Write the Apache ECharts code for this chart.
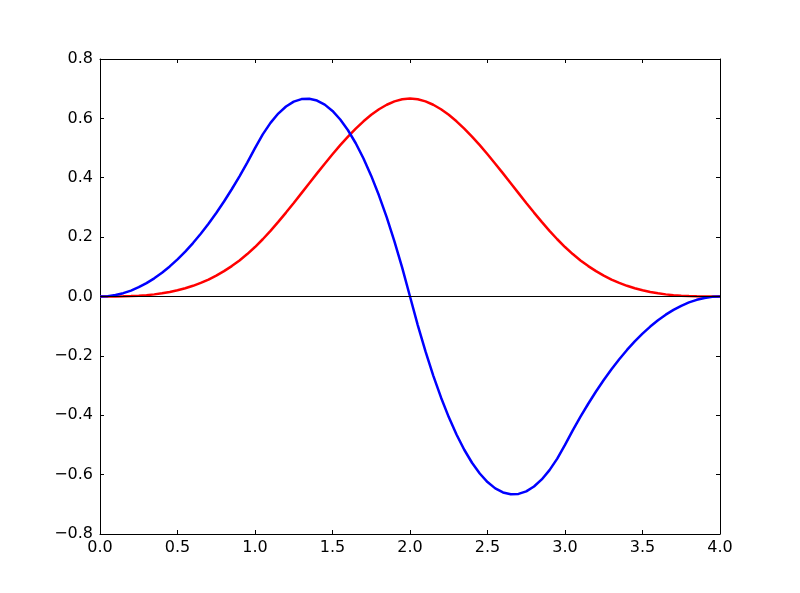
<!DOCTYPE html>
<html>
<head>
<meta charset="utf-8">
<script src="https://cdn.jsdelivr.net/npm/echarts@6/dist/echarts.min.js"></script>
<style>
  html, body { margin: 0; padding: 0; background: #fff; }
  #main { width: 800px; height: 593px; }
</style>
</head>
<body>
<div id="main"></div>
<script>
// sample positions along x
var xs = [0.00, 0.05, 0.10, 0.15, 0.20, 0.25, 0.30, 0.35, 0.40, 0.45,
          0.50, 0.55, 0.60, 0.65, 0.70, 0.75, 0.80, 0.85, 0.90, 0.95,
          1.00, 1.05, 1.10, 1.15, 1.20, 1.25, 1.30, 1.35, 1.40, 1.45,
          1.50, 1.55, 1.60, 1.65, 1.70, 1.75, 1.80, 1.85, 1.90, 1.95,
          2.00, 2.05, 2.10, 2.15, 2.20, 2.25, 2.30, 2.35, 2.40, 2.45,
          2.50, 2.55, 2.60, 2.65, 2.70, 2.75, 2.80, 2.85, 2.90, 2.95,
          3.00, 3.05, 3.10, 3.15, 3.20, 3.25, 3.30, 3.35, 3.40, 3.45,
          3.50, 3.55, 3.60, 3.65, 3.70, 3.75, 3.80, 3.85, 3.90, 3.95, 4.00];

// red curve (bell shape)
var redVals = [0, 0.00002, 0.00017, 0.00056, 0.00133, 0.0026, 0.0045, 0.00715, 0.01067, 0.0152,
               0.02083, 0.02773, 0.036, 0.04577, 0.05717, 0.07031, 0.08533, 0.10235, 0.1215, 0.1429,
               0.16667, 0.19285, 0.22117, 0.25123, 0.28267, 0.3151, 0.34817, 0.38148, 0.41467, 0.44735,
               0.47917, 0.50973, 0.53867, 0.5656, 0.59017, 0.61198, 0.63067, 0.64585, 0.65717, 0.66423,
               0.66667, 0.66423, 0.65717, 0.64585, 0.63067, 0.61198, 0.59017, 0.5656, 0.53867, 0.50973,
               0.47917, 0.44735, 0.41467, 0.38148, 0.34817, 0.3151, 0.28267, 0.25123, 0.22117, 0.19285,
               0.16667, 0.1429, 0.1215, 0.10235, 0.08533, 0.07031, 0.05717, 0.04577, 0.036, 0.02773,
               0.02083, 0.0152, 0.01067, 0.00715, 0.0045, 0.0026, 0.00133, 0.00056, 0.00017, 0.00002, 0];

// blue curve (up then down)
var blueVals = [0, 0.00125, 0.005, 0.01125, 0.02, 0.03125, 0.045, 0.06125, 0.08, 0.10125,
                0.125, 0.15125, 0.18, 0.21125, 0.245, 0.28125, 0.32, 0.36125, 0.405, 0.45125,
                0.5, 0.54625, 0.585, 0.61625, 0.64, 0.65625, 0.665, 0.66625, 0.66, 0.64625,
                0.625, 0.59625, 0.56, 0.51625, 0.465, 0.40625, 0.34, 0.26625, 0.185, 0.09625,
                0, -0.09625, -0.185, -0.26625, -0.34, -0.40625, -0.465, -0.51625, -0.56, -0.59625,
                -0.625, -0.64625, -0.66, -0.66625, -0.665, -0.65625, -0.64, -0.61625, -0.585, -0.54625,
                -0.5, -0.45125, -0.405, -0.36125, -0.32, -0.28125, -0.245, -0.21125, -0.18, -0.15125,
                -0.125, -0.10125, -0.08, -0.06125, -0.045, -0.03125, -0.02, -0.01125, -0.005, -0.00125, 0];

function zip(a, b) {
  return a.map(function (v, i) { return [v, b[i]]; });
}

function fmt(v) {
  return v.toFixed(1).replace('-', '\u2212');
}

var labelStyle = { color: '#000', fontSize: 16, fontFamily: 'DejaVu Sans', margin: 7 };
var lineStyle = { color: '#000', width: 1 };
var tickStyle = { show: true, inside: true, length: 4, lineStyle: { color: '#000', width: 1 } };

var chart = echarts.init(document.getElementById('main'));
chart.setOption({
  backgroundColor: '#fff',
  animation: false,
  grid: { left: 100, right: 80, top: 59, bottom: 59 },
  xAxis: [{
    type: 'value', min: 0, max: 4, interval: 0.5, position: 'bottom',
    axisLine: { show: true, onZero: false, lineStyle: lineStyle },
    axisTick: tickStyle,
    axisLabel: Object.assign({ formatter: fmt }, labelStyle, { margin: 6 }),
    splitLine: { show: false }
  }, {
    type: 'value', min: 0, max: 4, interval: 0.5, position: 'top',
    axisLine: { show: true, onZero: false, lineStyle: lineStyle },
    axisTick: tickStyle,
    axisLabel: { show: false },
    splitLine: { show: false }
  }],
  yAxis: [{
    type: 'value', min: -0.8, max: 0.8, interval: 0.2, position: 'left',
    axisLine: { show: true, onZero: false, lineStyle: lineStyle },
    axisTick: tickStyle,
    axisLabel: Object.assign({ formatter: fmt }, labelStyle),
    splitLine: { show: false }
  }, {
    type: 'value', min: -0.8, max: 0.8, interval: 0.2, position: 'right',
    axisLine: { show: true, onZero: false, lineStyle: lineStyle },
    axisTick: tickStyle,
    axisLabel: { show: false },
    splitLine: { show: false }
  }],
  series: [{
    type: 'line',
    data: zip(xs, redVals),
    showSymbol: false,
    lineStyle: { color: '#ff0000', width: 2.5 },
    markLine: {
      silent: true,
      symbol: 'none',
      label: { show: false },
      lineStyle: { color: '#000', width: 1, type: 'solid' },
      data: [{ yAxis: 0 }]
    }
  }, {
    type: 'line',
    data: zip(xs, blueVals),
    showSymbol: false,
    lineStyle: { color: '#0000ff', width: 2.5 }
  }]
});
</script>
</body>
</html>
